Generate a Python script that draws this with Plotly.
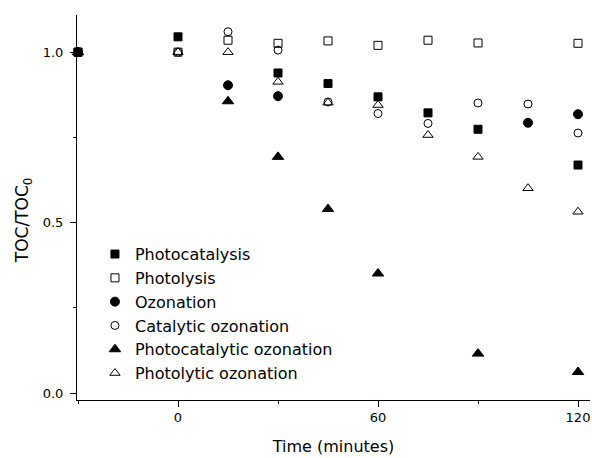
import plotly.graph_objects as go

# Time (minutes) and TOC/TOC0 values per series
pc_t = [-30, 0, 30, 45, 60, 75, 90, 120]
pc_v = [1.0, 1.045, 0.939, 0.908, 0.869, 0.822, 0.774, 0.669]

pl_t = [-30, 0, 15, 30, 45, 60, 75, 90, 120]
pl_v = [1.0, 1.0, 1.035, 1.026, 1.033, 1.02, 1.035, 1.027, 1.026]

oz_t = [-30, 15, 30, 105, 120]
oz_v = [1.0, 0.903, 0.871, 0.793, 0.818]

co_t = [-30, 0, 15, 30, 45, 60, 75, 90, 105, 120]
co_v = [1.0, 1.0, 1.06, 1.006, 0.854, 0.82, 0.791, 0.851, 0.848, 0.763]

pco_t = [-30, 15, 30, 45, 60, 90, 120]
pco_v = [1.0, 0.856, 0.693, 0.540, 0.351, 0.116, 0.062]

plo_t = [-30, 0, 15, 30, 45, 60, 75, 90, 105, 120]
plo_v = [1.0, 1.0, 1.0, 0.913, 0.852, 0.845, 0.757, 0.693, 0.601, 0.532]

names = ["Photocatalysis", "Photolysis", "Ozonation", "Catalytic ozonation",
         "Photocatalytic ozonation", "Photolytic ozonation"]
symbols = ["square", "square-open", "circle", "circle-open",
           "triangle-up", "triangle-up-open"]
sizes = [8, 8, 9, 8, 10, 9]
data = [(pc_t, pc_v), (pl_t, pl_v), (oz_t, oz_v), (co_t, co_v),
        (pco_t, pco_v), (plo_t, plo_v)]

x_ticks = [0, 60, 120]
x_minor = [-30, 30, 90]
y_ticks = [0, 0.5, 1.0]
y_minor = [0.25, 0.75]

FONT = "'DejaVu Sans', Arial, sans-serif"

fig = go.Figure()
for i, (name, sym, sz, (t, v)) in enumerate(zip(names, symbols, sizes, data)):
    fig.add_trace(go.Scatter(
        x=t, y=v, mode="markers", name=name,
        marker=dict(symbol=sym, size=sz, color="black",
                    line=dict(color="black", width=1)),
        cliponaxis=False,
    ))

fig.update_layout(
    width=592, height=458,
    margin=dict(l=77, r=2, t=15, b=58),
    paper_bgcolor="white", plot_bgcolor="white",
    font=dict(family=FONT, color="black", size=13),
    hovermode=False,
    showlegend=True,
    legend=dict(x=0.035, y=0.423, xanchor="left", yanchor="top",
                bgcolor="rgba(0,0,0,0)", borderwidth=0,
                font=dict(size=16, family=FONT, color="black"),
                tracegroupgap=0, itemwidth=30),
    xaxis=dict(range=[-30.3, 123.6], tickvals=x_ticks,
               ticktext=[str(v) for v in x_ticks],
               ticks="outside", ticklen=6, tickwidth=1, tickcolor="black",
               minor=dict(tickvals=x_minor, ticks="outside", ticklen=3,
                          tickcolor="black"),
               showline=True, linecolor="black", linewidth=1,
               showgrid=False, zeroline=False, automargin=False,
               ticklabelstandoff=-1, ticklabeloverflow="allow",
               tickfont=dict(size=13, family=FONT),
               title=dict(text="Time (minutes)", font=dict(size=16, family=FONT),
                          standoff=17)),
    yaxis=dict(range=[-0.02, 1.109], tickvals=y_ticks,
               ticktext=["%.1f" % v for v in y_ticks],
               ticks="outside", ticklen=6, tickwidth=1, tickcolor="black",
               minor=dict(tickvals=y_minor, ticks="outside", ticklen=3,
                          tickcolor="black"),
               showline=True, linecolor="black", linewidth=1,
               showgrid=False, zeroline=False, automargin=False,
               ticklabelstandoff=4,
               tickfont=dict(size=13, family=FONT)),
    annotations=[dict(text="TOC/TOC<sub>0</sub>", textangle=-90,
                      xref="paper", yref="paper", x=-0.105, y=0.4675,
                      xanchor="center", yanchor="middle", showarrow=False,
                      font=dict(size=17, family=FONT, color="black"))],
)

fig.write_html("out.html",
               config={"displayModeBar": False},
               post_script="document.body.style.margin='0';"
                           "document.body.style.overflow='hidden';")
